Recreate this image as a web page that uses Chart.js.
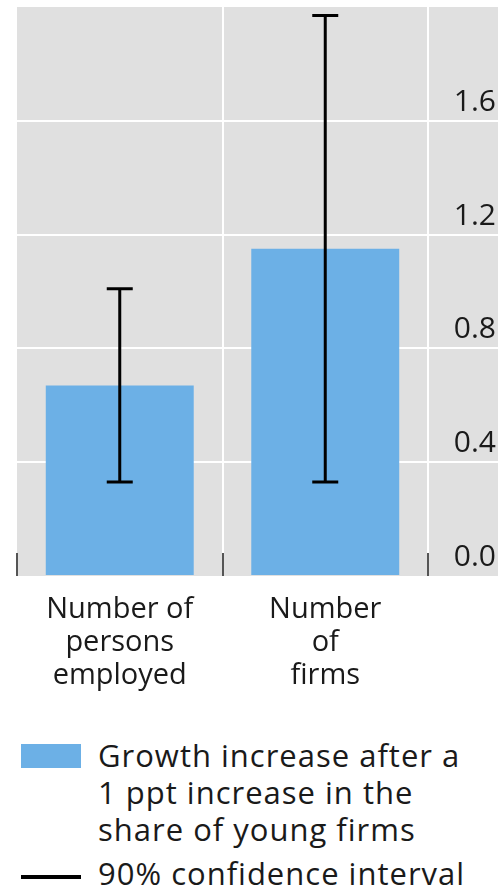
<!DOCTYPE html>
<html>
<head>
<meta charset="utf-8">
<script src="https://cdn.jsdelivr.net/npm/chart.js@4"></script>
<style>
  html, body { margin: 0; padding: 0; background: #fff; }
  body { width: 498px; height: 890px; position: relative; overflow: hidden; font-family: 'Open Sans', sans-serif; color: #1a1a1a; }
  #wrap { position: absolute; left: 0; top: 0; width: 498px; height: 700px; }
  .swatch { position: absolute; left: 21px; width: 60px; }
  .ltext { position: absolute; left: 98px; font-size: 31px; line-height: 37px; letter-spacing: 1px; white-space: nowrap; }
</style>
</head>
<body>
<div id="wrap"><canvas id="chart"></canvas></div>
<div id="legend"></div>
<script>
// categories and series
const categories = [['Number of', 'persons', 'employed'], ['Number', 'of', 'firms']];
const growth = [0.67, 1.15];
const ciLow = [0.33, 0.33];
const ciHigh = [1.01, 1.97];
const yTicks = [0, 0.4, 0.8, 1.2, 1.6];
const barLabel = ['Growth increase after a', '1 ppt increase in the', 'share of young firms'];
const ciLabel = ['90% confidence interval'];

const BLUE = '#6cb0e6';
const PANEL = '#e0e0e0';
const FONT = "'Open Sans', sans-serif";

// grey panel behind the plot, reaching under the value labels
const panel = {
  id: 'panel',
  beforeDraw(chart) {
    const { ctx, chartArea } = chart;
    ctx.save();
    ctx.fillStyle = PANEL;
    ctx.fillRect(chartArea.left, chartArea.top, chart.width - chartArea.left, chartArea.bottom - chartArea.top);
    ctx.restore();
  }
};

// confidence interval whiskers
const whiskers = {
  id: 'whiskers',
  afterDatasetsDraw(chart) {
    const { ctx } = chart;
    const y = chart.scales.y;
    const meta = chart.getDatasetMeta(0);
    ctx.save();
    ctx.strokeStyle = '#000';
    ctx.lineWidth = 3;
    meta.data.forEach((bar, i) => {
      const top = y.getPixelForValue(ciHigh[i]);
      const bot = y.getPixelForValue(ciLow[i]);
      ctx.beginPath();
      ctx.moveTo(bar.x, top);
      ctx.lineTo(bar.x, bot);
      ctx.moveTo(bar.x - 13, top);
      ctx.lineTo(bar.x + 13, top);
      ctx.moveTo(bar.x - 13, bot);
      ctx.lineTo(bar.x + 13, bot);
      ctx.stroke();
    });
    ctx.restore();
  },
  afterDraw(chart) {
    const { ctx, chartArea } = chart;
    const x = chart.scales.x;
    const y = chart.scales.y;
    ctx.save();
    // short inward ticks between categories
    ctx.strokeStyle = '#555';
    ctx.lineWidth = 2;
    for (let i = 0; i <= categories.length; i++) {
      const px = Math.round(x.getPixelForValue(i - 0.5));
      ctx.beginPath();
      ctx.moveTo(px, chartArea.bottom - 23);
      ctx.lineTo(px, chartArea.bottom);
      ctx.stroke();
    }
    // value labels sit just above their gridlines
    ctx.fillStyle = '#1a1a1a';
    ctx.font = '30px ' + FONT;
    ctx.textAlign = 'right';
    ctx.textBaseline = 'alphabetic';
    yTicks.forEach(v => {
      ctx.fillText(v.toFixed(1), chart.width - 2, y.getPixelForValue(v) - 10);
    });
    ctx.restore();
  }
};

new Chart(document.getElementById('chart'), {
  type: 'bar',
  data: {
    labels: categories,
    datasets: [{
      label: barLabel.join(' '),
      data: growth,
      backgroundColor: BLUE,
      borderWidth: 0,
      categoryPercentage: 1,
      barPercentage: 0.72
    }]
  },
  options: {
    responsive: true,
    maintainAspectRatio: false,
    animation: false,
    layout: { padding: { left: 17, top: 7 } },
    plugins: { legend: { display: false }, tooltip: { enabled: false } },
    scales: {
      x: {
        offset: true,
        border: { display: false },
        grid: {
          offset: true,
          drawTicks: false,
          lineWidth: 2,
          color: c => c.index === 0 ? 'transparent' : '#fff'
        },
        ticks: {
          padding: 17,
          color: '#1a1a1a',
          font: { family: FONT, size: 29, lineHeight: '33px' },
          maxRotation: 0
        },
        afterFit: s => { s.height = 124; }
      },
      y: {
        position: 'right',
        min: 0,
        max: 2,
        border: { display: false },
        grid: {
          lineWidth: 2,
          tickLength: 70,
          color: c => (c.tick && (c.tick.value === 0 || c.tick.value === 2)) ? 'transparent' : '#fff'
        },
        ticks: { stepSize: 0.4, display: false },
        afterFit: s => { s.width = 70; }
      }
    }
  },
  plugins: [panel, whiskers]
});

// legend below the chart
const legend = document.getElementById('legend');
legend.innerHTML =
  '<div class="swatch" style="top:744px;height:24px;background:' + BLUE + '"></div>' +
  '<div class="ltext" style="top:737px">' + barLabel.join('<br>') + '</div>' +
  '<div class="swatch" style="top:875px;height:4px;background:#000"></div>' +
  '<div class="ltext" style="top:855px">' + ciLabel.join('<br>') + '</div>';
</script>
</body>
</html>
